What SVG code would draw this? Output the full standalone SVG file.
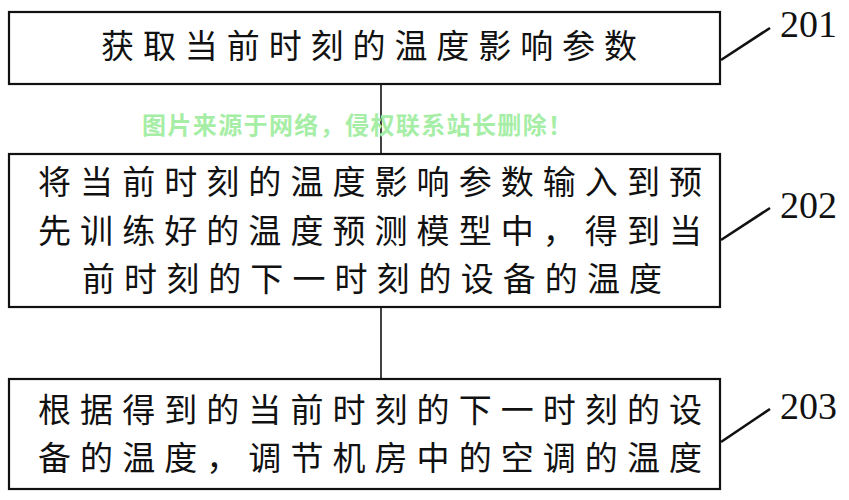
<svg xmlns="http://www.w3.org/2000/svg" width="849" height="500" viewBox="0 0 849 500">
<style>
.box{fill:#fff;stroke:#111;stroke-width:2.2}
.t{font-family:"Noto Sans CJK SC","Noto Sans CJK JP",sans-serif;font-size:33px;fill:#111}
.lbl{font-family:"Liberation Serif","Times New Roman",serif;font-size:38px;fill:#111}
.conn{stroke:#111;stroke-width:1.6;fill:none}
.lead{stroke:#111;stroke-width:2.6;fill:none}
.wm{font-family:"Noto Sans CJK SC",sans-serif;font-weight:700;font-size:24px;fill:#a6eea6}
</style>
<rect width="849" height="500" fill="#fff"/>
<g id="connectors">
<line class="conn" x1="381" y1="84" x2="381" y2="154"/>
<line class="conn" x1="381" y1="307" x2="381" y2="379"/>
</g>
<g id="node201">
<rect class="box" x="9" y="12" width="711" height="72"/>
<text class="t" x="101" y="58" textLength="536" lengthAdjust="spacing">获取当前时刻的温度影响参数</text>
<line class="lead" x1="721" y1="60" x2="770" y2="28"/>
<text class="lbl" x="780" y="37">201</text>
</g>
<g id="node202">
<rect class="box" x="9" y="154" width="711" height="153"/>
<text class="t" x="38" y="194" textLength="664" lengthAdjust="spacing">将当前时刻的温度影响参数输入到预</text>
<text class="t" x="38" y="243" textLength="664" lengthAdjust="spacing">先训练好的温度预测模型中，得到当</text>
<text class="t" x="82" y="291" textLength="580" lengthAdjust="spacing">前时刻的下一时刻的设备的温度</text>
<line class="lead" x1="721" y1="240" x2="770" y2="208"/>
<text class="lbl" x="780" y="218">202</text>
</g>
<g id="node203">
<rect class="box" x="9" y="379" width="711" height="110"/>
<text class="t" x="38" y="422" textLength="664" lengthAdjust="spacing">根据得到的当前时刻的下一时刻的设</text>
<text class="t" x="38" y="470" textLength="664" lengthAdjust="spacing">备的温度，调节机房中的空调的温度</text>
<line class="lead" x1="721" y1="442" x2="770" y2="409"/>
<text class="lbl" x="780" y="419">203</text>
</g>
<text class="wm" x="142" y="134" textLength="430" lengthAdjust="spacing">图片来源于网络，侵权联系站长删除！</text>
</svg>
